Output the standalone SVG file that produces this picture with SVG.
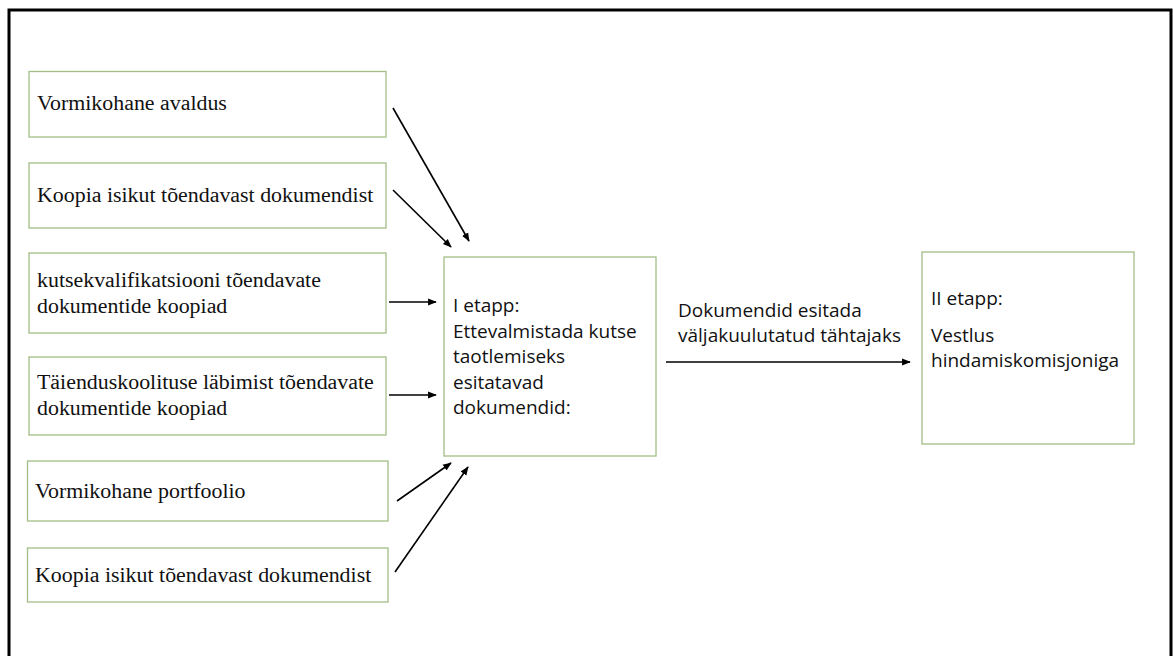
<svg xmlns="http://www.w3.org/2000/svg" width="1173" height="656" viewBox="0 0 1173 656">
<style>
.frame{fill:#fff;stroke:#000;stroke-width:3}
.box{fill:#fff;stroke:#a3bd86;stroke-width:1.3}
.serif{font-family:"Liberation Serif","Times New Roman",serif;font-size:21.9px;fill:#111}
.sans{font-family:"Open Sans","Liberation Sans",sans-serif;font-size:19px;fill:#111}
.conn line{stroke:#000;stroke-width:1.6;marker-end:url(#ah)}
</style>
<defs>
<marker id="ah" viewBox="0 0 10 10" refX="9" refY="5" markerWidth="5.5" markerHeight="5.5" orient="auto" markerUnits="strokeWidth">
<path d="M0,1 L10,5 L0,9 z" fill="#000"/>
</marker>
</defs>
<rect width="1173" height="656" fill="#fff"/>
<rect class="frame" x="9" y="10" width="1162" height="660"/>
<g id="n1"><rect class="box" x="29" y="71.5" width="357" height="65.5"/><text class="serif" x="37" y="110">Vormikohane avaldus</text></g>
<g id="n2"><rect class="box" x="29" y="163" width="357" height="65"/><text class="serif" x="37" y="202">Koopia isikut tõendavast dokumendist</text></g>
<g id="n3"><rect class="box" x="29" y="253" width="357" height="80"/><text class="serif" x="37" y="287">kutsekvalifikatsiooni tõendavate</text><text class="serif" x="37" y="313">dokumentide koopiad</text></g>
<g id="n4"><rect class="box" x="29" y="357" width="357" height="78"/><text class="serif" x="37" y="389">Täienduskoolituse läbimist tõendavate</text><text class="serif" x="37" y="415">dokumentide koopiad</text></g>
<g id="n5"><rect class="box" x="27.5" y="461" width="360.5" height="60"/><text class="serif" x="35" y="498">Vormikohane portfoolio</text></g>
<g id="n6"><rect class="box" x="27.5" y="548" width="360.5" height="54"/><text class="serif" x="35" y="582">Koopia isikut tõendavast dokumendist</text></g>
<g id="n7"><rect class="box" x="444" y="257" width="212" height="199"/>
<text class="sans" x="453" y="312">I etapp:</text>
<text class="sans" x="453" y="337.5">Ettevalmistada kutse</text>
<text class="sans" x="453" y="363">taotlemiseks</text>
<text class="sans" x="453" y="388.5">esitatavad</text>
<text class="sans" x="453" y="414">dokumendid:</text></g>
<g id="n8"><rect class="box" x="922" y="252" width="212" height="192"/>
<text class="sans" x="931" y="305">II etapp:</text>
<text class="sans" x="931" y="342">Vestlus</text>
<text class="sans" x="931" y="367">hindamiskomisjoniga</text></g>
<g id="label"><text class="sans" x="678" y="316.5">Dokumendid esitada</text><text class="sans" x="678" y="341.5">väljakuulutatud tähtajaks</text></g>
<g class="conn" id="connectors">
<line x1="393" y1="108" x2="469" y2="241"/>
<line x1="393" y1="190" x2="451" y2="247"/>
<line x1="389" y1="302" x2="436" y2="302"/>
<line x1="389" y1="395" x2="436" y2="395"/>
<line x1="397" y1="501" x2="451" y2="463"/>
<line x1="395" y1="572" x2="468" y2="467"/>
<line x1="666" y1="362" x2="910" y2="362"/>
</g>
</svg>
